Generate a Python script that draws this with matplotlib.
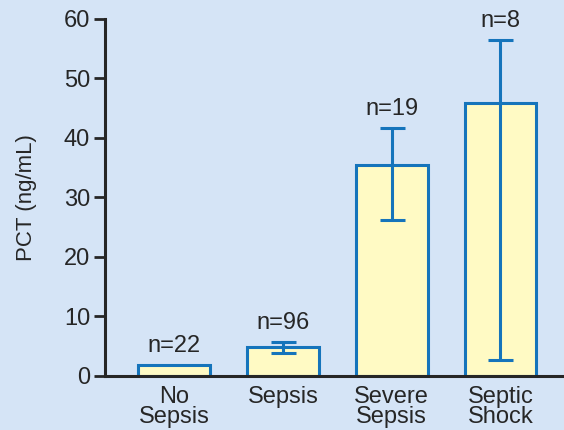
import matplotlib.pyplot as plt
import numpy as np

plt.rcParams['font.family'] = ['Liberation Sans', 'DejaVu Sans']

groups = ['No\nSepsis', 'Sepsis', 'Severe\nSepsis', 'Septic\nShock']
pct_mean = [1.8, 4.9, 35.5, 45.9]
err_low = [0.0, 1.0, 9.3, 43.2]
err_high = [0.0, 0.8, 6.2, 10.6]
counts = [22, 96, 19, 8]

bg = '#d5e4f6'
edge = '#1574bb'
fill = '#fffac4'
ink = '#262626'

fig = plt.figure(figsize=(5.64, 4.30), dpi=100, facecolor=bg)
ax = fig.add_axes([0.187, 0.126, 0.82, 0.83])
ax.set_facecolor(bg)

x = np.arange(len(groups))
ax.bar(x, pct_mean, width=0.66, color=fill, edgecolor=edge, linewidth=2.2, zorder=2)

# error bars only where there is a spread
for i in range(len(x)):
    if err_low[i] > 0 or err_high[i] > 0:
        ax.errorbar(x[i], pct_mean[i], yerr=[[err_low[i]], [err_high[i]]],
                    fmt='none', ecolor=edge, elinewidth=2.2, capsize=9,
                    capthick=2.2, zorder=3)

# sample sizes above each bar
for i in range(len(x)):
    top = pct_mean[i] + err_high[i]
    ax.text(x[i], top + 1.3, 'n=' + str(counts[i]), ha='center', va='bottom',
            fontsize=17, color=ink)

ax.set_xlim(-0.63, 3.62)
ax.set_ylim(0, 60)
ax.set_yticks(range(0, 61, 10))
ax.set_xticks(x)
ax.set_xticklabels(groups, fontsize=17, color=ink, linespacing=0.92)
ax.tick_params(axis='y', labelsize=17, labelcolor=ink, length=8, width=2, color=ink, pad=3)
ax.tick_params(axis='x', length=0, pad=7)
ax.set_ylabel('PCT (ng/mL)', fontsize=16, color=ink, labelpad=19)

for s in ['top', 'right']:
    ax.spines[s].set_visible(False)
for s in ['left', 'bottom']:
    ax.spines[s].set_linewidth(2.2)
    ax.spines[s].set_color(ink)

plt.savefig('out.png', dpi=100, facecolor=bg)
